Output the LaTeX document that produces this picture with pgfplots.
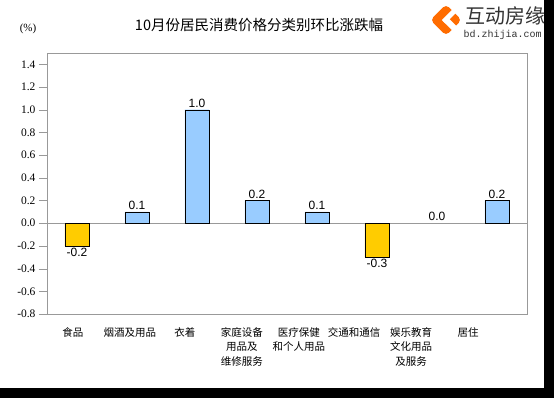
\documentclass[border=0pt]{standalone}
\usepackage{pgfplots}
\pgfplotsset{compat=1.18}
\usepackage{fontspec}
\setmainfont{Liberation Sans}
\newfontfamily\timesfont{Liberation Serif}
\newfontfamily\monofont{Liberation Mono}
\newfontfamily\cjk{Noto Sans CJK SC}
\definecolor{baryellow}{HTML}{FFCC00}
\definecolor{barblue}{HTML}{99CCFF}
\definecolor{axisgray}{HTML}{999999}
\begin{document}
\begin{tikzpicture}[x=1pt,y=1pt]
\fill[black] (0,0) rectangle (554,398);
\fill[white] (0,10) rectangle (544,398);
\useasboundingbox (0,0) rectangle (554,398);
\node[font=\cjk\fontsize{14.5}{16}\selectfont] at (259,373) {10月份居民消费价格分类别环比涨跌幅};
\node[font=\timesfont\fontsize{11}{13}\selectfont] at (28,369) {(\%)};
% logo
\begin{scope}[shift={(446,378)}]
\fill[orange!85!red, rounded corners=4pt, rotate=45] (-11,-11) rectangle (11,11);
\fill[white, rotate=45] (-3,-12) rectangle (3,2);
\fill[white, rotate=45] (-3,-2) rectangle (12,3);
\end{scope}
\node[font=\cjk\fontsize{20}{22}\selectfont, text=black!80, anchor=west] at (462,382) {互动房缘};
\node[font=\monofont\fontsize{10}{12}\selectfont, text=black!80, anchor=west] at (460,363) {bd.zhijia.com};
\begin{axis}[
  at={(47pt,84pt)}, anchor=south west,
  scale only axis, width=480pt, height=261pt,
  xmin=-0.5, xmax=7.5, ymin=-0.8, ymax=1.5,
  axis line style={axisgray},
  ytick={-0.8,-0.6,...,1.41},
  ytick pos=left, tick align=outside, major tick length=8pt,
  ytick style={axisgray},
  y tick label style={font=\timesfont\fontsize{11.5}{13}\selectfont},
  yticklabel={\pgfmathprintnumber[fixed,fixed zerofill,precision=1,assume math mode=true]{\tick}},
  extra y ticks={0}, extra y tick labels={}, extra y tick style={grid=major, major grid style={axisgray, thick}, major tick length=0pt},
  xtick={-0.067,0.883,1.8,2.75,3.7,4.617,5.567,6.517},
  xticklabels={食品,烟酒及用品,衣着,家庭设备\\用品及\\维修服务,医疗保健\\和个人用品,交通和通信,娱乐教育\\文化用品\\及服务,居住},
  xtick style={draw=none},
  x tick label style={font=\cjk\fontsize{10.5}{14.5}\selectfont, align=center, anchor=north, yshift=-2pt},
  ybar, bar width=24pt,
  nodes near coords={\pgfmathprintnumber[fixed,fixed zerofill,precision=1,assume math mode=true]{\pgfplotspointmeta}},
  every node near coord/.append style={font=\fontsize{12}{14}\selectfont, black, inner sep=2pt},
  clip=false,
]
\addplot[bar shift=0pt, fill=baryellow, draw=black] coordinates {(0,-0.2) (5,-0.3)};
\addplot[bar shift=0pt, fill=barblue, draw=black] coordinates {(1,0.1) (2,1.0) (3,0.2) (4,0.1) (7,0.2)};
\addplot[bar shift=0pt, fill=none, draw=none] coordinates {(6,0.0)};
\end{axis}
\end{tikzpicture}
\end{document}
